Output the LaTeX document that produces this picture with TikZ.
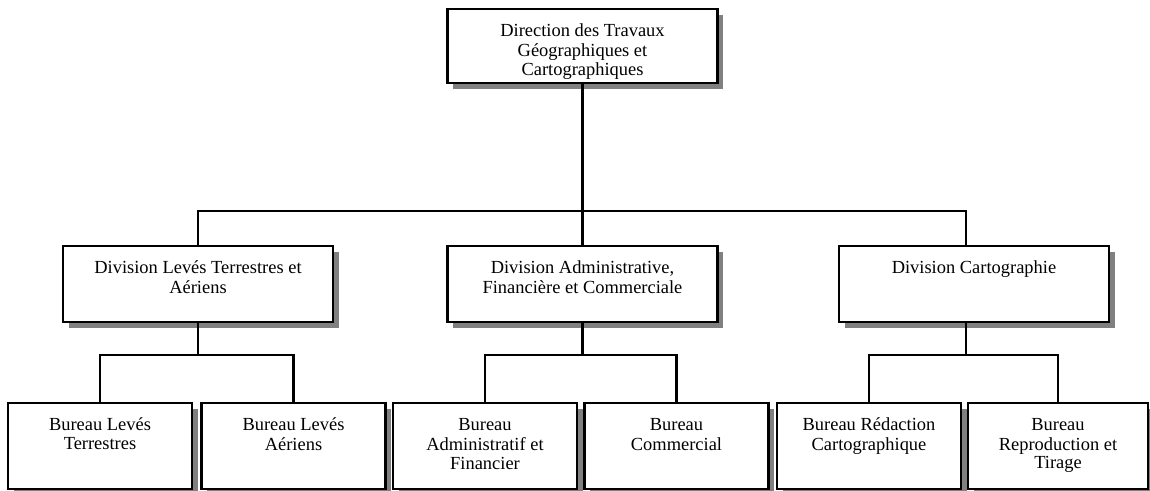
\documentclass[tikz,border=0pt]{standalone}
\usepackage{fontspec}
\setmainfont{Liberation Serif}
\usetikzlibrary{shadows}
\newcommand{\unittext}[3]{\parbox[t][#1][t]{#2}{\centering\vspace*{0.3cm}\strut #3}}

\begin{document}
\begin{tikzpicture}[
    unit/.style={draw, fill=white, line width=1.25pt, inner sep=0pt, anchor=north,
      font=\fontsize{10.5}{10.3}\selectfont,
      drop shadow={shadow xshift=0.11cm, shadow yshift=-0.11cm, fill=black!50, opacity=1}},
    link/.style={line width=1.25pt}]
  \useasboundingbox (0,0) rectangle (23,-9.82);
  % direction
  \node[unit] (dir) at (11.65,-0.16) {\unittext{1.48cm}{5.4cm}{Direction des Travaux\\ Géographiques et\\ Cartographiques}};
  % divisions
  \node[unit] (lev)   at (3.96,-4.90)  {\unittext{1.52cm}{5.4cm}{Division Levés Terrestres et\\ Aériens}};
  \node[unit] (adm)   at (11.65,-4.90) {\unittext{1.52cm}{5.4cm}{Division Administrative,\\ Financière et Commerciale}};
  \node[unit] (carto) at (19.48,-4.90) {\unittext{1.52cm}{5.4cm}{Division Cartographie}};
  % bureaux
  \node[unit] (bterr) at (2.00,-8.04)  {\unittext{1.72cm}{3.68cm}{Bureau Levés\\ Terrestres}};
  \node[unit] (baer)  at (5.87,-8.04)  {\unittext{1.72cm}{3.68cm}{Bureau Levés\\ Aériens}};
  \node[unit] (badm)  at (9.70,-8.04)  {\unittext{1.72cm}{3.68cm}{Bureau\\ Administratif et\\ Financier}};
  \node[unit] (bcom)  at (13.53,-8.04) {\unittext{1.72cm}{3.68cm}{Bureau\\ Commercial}};
  \node[unit] (bred)  at (17.38,-8.04) {\unittext{1.72cm}{3.68cm}{Bureau Rédaction\\ Cartographique}};
  \node[unit] (brep)  at (21.16,-8.04) {\unittext{1.72cm}{3.60cm}{Bureau\\ Reproduction et\\ Tirage}};
  % liaisons
  \coordinate (bus) at ([yshift=0.68cm]adm.north);
  \draw[link] (dir.south) -- (bus);
  \draw[link] (lev.north) |- (bus) -| ([xshift=-0.16cm]carto.north);
  \draw[link] (bus) -- (adm.north);
  \draw[link] (lev.south) -- ([yshift=-0.64cm]lev.south);
  \draw[link] (bterr.north) |- ([yshift=-0.64cm]lev.south) -| (baer.north);
  \draw[link] (adm.south) -- ([yshift=-0.64cm]adm.south);
  \draw[link] (badm.north) |- ([yshift=-0.64cm]adm.south) -| (bcom.north);
  \draw[link] ([xshift=-0.16cm]carto.south) -- ([xshift=-0.16cm,yshift=-0.64cm]carto.south);
  \draw[link] (bred.north) |- ([xshift=-0.16cm,yshift=-0.64cm]carto.south) -| (brep.north);
\end{tikzpicture}
\end{document}
